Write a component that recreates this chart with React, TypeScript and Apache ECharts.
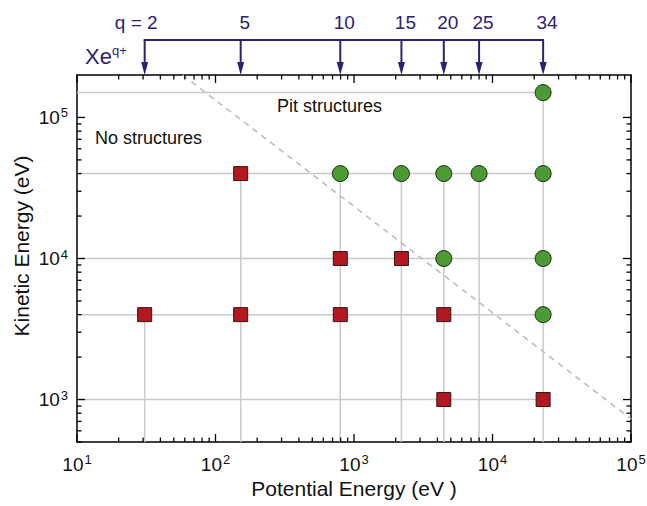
import React, { useEffect, useRef } from 'react';
import * as echarts from 'echarts';

// Xe^{q+} charge states and their potential energies (eV)
const chargeStates = [2, 5, 10, 15, 20, 25, 34];
const potentialEnergy = [30.8, 152, 796, 2200, 4450, 8000, 23200];

// "No structures" points (red squares)
const noStructPE = [30.8, 152, 152, 796, 796, 2200, 4450, 4450, 23200];
const noStructKE = [4000, 40000, 4000, 10000, 4000, 10000, 4000, 1000, 1000];

// "Pit structures" points (green circles)
const pitPE = [796, 2200, 4450, 4450, 8000, 23200, 23200, 23200, 23200];
const pitKE = [40000, 40000, 40000, 10000, 40000, 150000, 40000, 10000, 4000];

// dashed boundary line
const boundaryPE = [58, 100000];
const boundaryKE = [200000, 728];

// axis ranges
const xRange = [10, 100000];
const yRange = [500, 200000];

// tick values
const xMajorTicks = [10, 100, 1000, 10000, 100000];
const yMajorTicks = [1000, 10000, 100000];
const minorMultipliers = [2, 3, 4, 5, 6, 7, 8, 9];

const FONT = '"Liberation Sans", Arial, Helvetica, sans-serif';
const NAVY = '#2c2173';

export default function App() {
  const ref = useRef<HTMLDivElement>(null);

  useEffect(() => {
    if (!ref.current) return;
    const chart = echarts.init(ref.current, undefined, { renderer: 'svg' });

    const allPE = [...noStructPE, ...pitPE];
    const allKE = [...noStructKE, ...pitKE];
    const maxPE = Math.max(...potentialEnergy);

    // gray guide lines
    const levels = Array.from(new Set(allKE));
    const guideSeries: any[] = [];
    levels.forEach((ke) => {
      guideSeries.push({
        type: 'line',
        data: [[xRange[0], ke], [maxPE, ke]],
        symbol: 'none',
        silent: true,
        z: 1,
        lineStyle: { color: '#c9c9c9', width: 1.5 },
      });
    });
    potentialEnergy.forEach((pe) => {
      let top = 0;
      allPE.forEach((x, i) => {
        if (x === pe && allKE[i] > top) top = allKE[i];
      });
      guideSeries.push({
        type: 'line',
        data: [[pe, top], [pe, yRange[0]]],
        symbol: 'none',
        silent: true,
        z: 1,
        lineStyle: { color: '#c9c9c9', width: 1.5 },
      });
    });

    // tick data
    const xTickData: number[][] = [];
    xMajorTicks.forEach((v) => xTickData.push([v, 1000, 1]));
    xMajorTicks.slice(0, -1).forEach((d) =>
      minorMultipliers.forEach((m) => xTickData.push([m * d, 1000, 0]))
    );
    const yTickData: number[][] = [];
    yMajorTicks.forEach((v) => yTickData.push([10, v, 1]));
    [100, 1000, 10000].forEach((d) =>
      minorMultipliers.forEach((m) => {
        const v = m * d;
        if (v >= yRange[0] && v < yRange[1]) yTickData.push([10, v, 0]);
      })
    );
    const tickStyle = { stroke: '#000', lineWidth: 1.3 };

    const labelFormatter = (v: number) => {
      const lg = Math.log10(v);
      const e = Math.round(lg);
      return Math.abs(lg - e) < 1e-6 ? `{b|10}{s|${e}}` : '';
    };
    const labelRich = {
      b: { fontSize: 19, fontFamily: FONT, color: '#111', lineHeight: 22 },
      s: { fontSize: 13, fontFamily: FONT, color: '#111', verticalAlign: 'top', lineHeight: 13, padding: [0, 0, 0, 1] },
    };

    const option: any = {
      animation: false,
      backgroundColor: '#fff',
      grid: {
        left: 77,
        right: 16,
        top: 75,
        bottom: 64,
        show: true,
        borderColor: '#000',
        borderWidth: 1.5,
        containLabel: false,
        outerBoundsMode: 'none',
      },
      xAxis: {
        type: 'log',
        logBase: 10,
        min: xRange[0],
        max: xRange[1],
        splitNumber: 4,
        axisLine: { show: false },
        axisTick: { show: false },
        splitLine: { show: false },
        axisLabel: {
          formatter: labelFormatter,
          rich: labelRich,
          margin: 11,
          fontSize: 19,
          fontFamily: FONT,
          color: '#111',
        },
        name: 'Potential Energy (eV )',
        nameLocation: 'middle',
        nameGap: 35,
        nameTextStyle: { fontSize: 21, fontFamily: FONT, color: '#111' },
      },
      yAxis: {
        type: 'log',
        logBase: 10,
        min: yRange[0],
        max: yRange[1],
        axisLine: { show: false },
        axisTick: { show: false },
        splitLine: { show: false },
        axisLabel: {
          formatter: labelFormatter,
          rich: labelRich,
          margin: 9,
          fontSize: 19,
          fontFamily: FONT,
          color: '#111',
        },
      },
      graphic: [
        {
          type: 'text',
          x: 21,
          y: 246,
          rotation: Math.PI / 2,
          style: {
            text: 'Kinetic Energy (eV)',
            fill: '#111',
            font: `21px ${FONT}`,
            align: 'center',
            verticalAlign: 'middle',
          },
        },
        {
          type: 'text',
          x: 95,
          y: 138,
          style: { text: 'No structures', fill: '#111', font: `18px ${FONT}`, align: 'left', verticalAlign: 'middle' },
        },
        {
          type: 'text',
          x: 277,
          y: 106,
          style: { text: 'Pit structures', fill: '#111', font: `18px ${FONT}`, align: 'left', verticalAlign: 'middle' },
        },
        {
          type: 'text',
          x: 85,
          y: 56,
          style: {
            text: '{a|Xe}{s|q+}',
            verticalAlign: 'middle',
            rich: {
              a: { fontSize: 22, fontFamily: FONT, fill: NAVY, color: NAVY, lineHeight: 24 },
              s: { fontSize: 13, fontFamily: FONT, fill: NAVY, color: NAVY, verticalAlign: 'top', lineHeight: 13 },
            },
          },
        },
      ],
      series: [
        ...guideSeries,
        {
          type: 'line',
          data: boundaryPE.map((x, i) => [x, boundaryKE[i]]),
          symbol: 'none',
          silent: true,
          z: 2,
          lineStyle: { color: '#bdbdbd', width: 1.6, type: [6, 5] },
        },
        {
          type: 'custom',
          silent: true,
          clip: false,
          z: 5,
          data: xTickData,
          renderItem: (params: any, api: any) => {
            const v = api.value(0);
            const major = api.value(2);
            const cs = params.coordSys;
            const px = api.coord([v, 1000])[0];
            const L = major ? 8 : 4.5;
            const top = cs.y;
            const bottom = cs.y + cs.height;
            return {
              type: 'group',
              children: [
                { type: 'line', shape: { x1: px, y1: bottom, x2: px, y2: bottom - L }, style: tickStyle },
                { type: 'line', shape: { x1: px, y1: top, x2: px, y2: top + L }, style: tickStyle },
              ],
            };
          },
        },
        {
          type: 'custom',
          silent: true,
          clip: false,
          z: 5,
          data: yTickData,
          renderItem: (params: any, api: any) => {
            const v = api.value(1);
            const major = api.value(2);
            const cs = params.coordSys;
            const py = api.coord([10, v])[1];
            const L = major ? 8 : 4.5;
            const left = cs.x;
            const right = cs.x + cs.width;
            return {
              type: 'group',
              children: [
                { type: 'line', shape: { x1: left, y1: py, x2: left + L, y2: py }, style: tickStyle },
                { type: 'line', shape: { x1: right, y1: py, x2: right - L, y2: py }, style: tickStyle },
              ],
            };
          },
        },
        {
          type: 'custom',
          silent: true,
          clip: false,
          z: 6,
          data: potentialEnergy.map((pe, i) => [pe, yRange[1], chargeStates[i]]),
          renderItem: (params: any, api: any) => {
            const pe = api.value(0);
            const q = api.value(2);
            const cs = params.coordSys;
            const px = api.coord([pe, yRange[1]])[0];
            const top = cs.y;
            const barY = top - 35;
            const lineStyle = { stroke: NAVY, lineWidth: 2 };
            const first = params.dataIndex === 0;
            const children: any[] = [
              { type: 'line', shape: { x1: px, y1: barY, x2: px, y2: top - 12 }, style: lineStyle },
              {
                type: 'polygon',
                shape: { points: [[px - 3.5, top - 13], [px + 3.5, top - 13], [px, top]] },
                style: { fill: NAVY },
              },
              {
                type: 'text',
                x: first ? px + 13 : px + 4,
                y: top - 53,
                style: {
                  text: first ? `q = ${q}` : `${q}`,
                  fill: NAVY,
                  font: `19px ${FONT}`,
                  align: first ? 'right' : 'center',
                  verticalAlign: 'middle',
                },
              },
            ];
            if (first) {
              const pxLast = api.coord([maxPE, yRange[1]])[0];
              children.push({
                type: 'line',
                shape: { x1: px - 1, y1: barY, x2: pxLast + 1, y2: barY },
                style: lineStyle,
              });
            }
            return { type: 'group', children };
          },
        },
        {
          type: 'scatter',
          name: 'No structures',
          z: 10,
          symbol: 'rect',
          symbolSize: 14,
          data: noStructPE.map((x, i) => [x, noStructKE[i]]),
          itemStyle: { color: '#b3171f', borderColor: '#2a1a1a', borderWidth: 1, opacity: 1 },
        },
        {
          type: 'scatter',
          name: 'Pit structures',
          z: 10,
          symbol: 'circle',
          symbolSize: 16,
          data: pitPE.map((x, i) => [x, pitKE[i]]),
          itemStyle: { color: '#4b9a32', borderColor: '#1e2a1a', borderWidth: 1, opacity: 1 },
        },
      ],
    };

    chart.setOption(option);
    return () => chart.dispose();
  }, []);

  return (
    <div
      ref={ref}
      style={{ position: 'fixed', left: 0, top: 0, width: 647, height: 506, background: '#fff' }}
    />
  );
}
